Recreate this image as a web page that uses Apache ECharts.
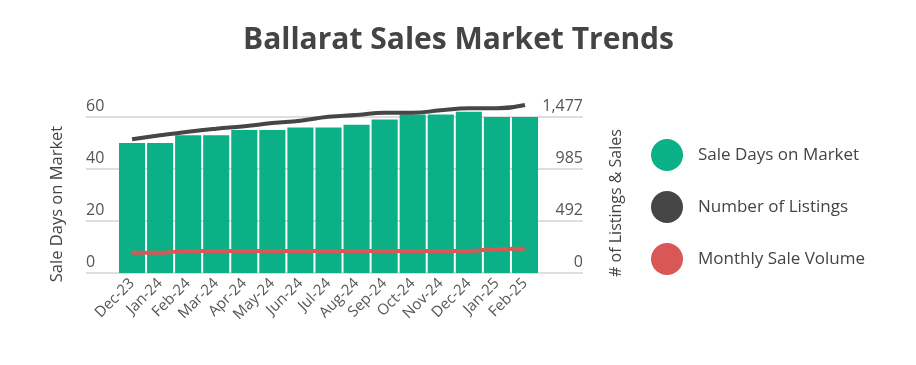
<!DOCTYPE html>
<html>
<head>
<meta charset="utf-8">
<script src="https://cdn.jsdelivr.net/npm/echarts@6/dist/echarts.min.js"></script>
<style>
html,body{margin:0;padding:0;background:#fff;}
#c{width:916px;height:365px;}
</style>
</head>
<body>
<div id="c"></div>
<script>
const categories = ['Dec-23','Jan-24','Feb-24','Mar-24','Apr-24','May-24','Jun-24','Jul-24','Aug-24','Sep-24','Oct-24','Nov-24','Dec-24','Jan-25','Feb-25'];
const saleDays = [50,50,53,53,55,55,56,56,57,59,61,61,62,60,60];
const listings = [1266,1304,1338,1366,1389,1420,1442,1480,1496,1518,1518,1540,1559,1559,1591];
const salesVolume = [192,192,208,208,208,208,208,208,208,208,208,208,208,227,230];
const leftTicks = {min:0,max:60,interval:20};
const rightTicks = {min:0,max:1477};

const FONT = '"Open Sans", "Noto Sans", sans-serif';
const chart = echarts.init(document.getElementById('c'), null, {renderer:'canvas'});
const rightInterval = rightTicks.max/3;

chart.setOption({
  animation:false,
  backgroundColor:'#fff',
  title:{
    text:'Ballarat Sales Market Trends',
    left:238, top:20,
    textStyle:{fontFamily:FONT,fontSize:30,fontWeight:'bold',color:'#444'}
  },
  legend:{
    orient:'vertical', left:646, top:134,
    icon:'circle', itemWidth:32, itemHeight:32, itemGap:20,
    textStyle:{fontFamily:FONT,fontSize:17,color:'#444',padding:[0,0,0,10]},
    data:['Sale Days on Market','Number of Listings','Monthly Sale Volume']
  },
  grid:[
    {left:118,right:377,top:117,bottom:92},
    {left:86,right:333,top:117,bottom:92}
  ],
  xAxis:[
    {type:'category',gridIndex:0,data:categories,
     axisLine:{show:false},axisTick:{show:false},
     axisLabel:{rotate:45,fontFamily:FONT,fontSize:15,color:'#555',margin:8,interval:0}},
    {type:'value',gridIndex:1,show:false,min:0,max:1}
  ],
  yAxis:[
    {type:'value',gridIndex:0,min:leftTicks.min,max:leftTicks.max,interval:leftTicks.interval,show:false},
    {type:'value',gridIndex:0,min:rightTicks.min,max:rightTicks.max,interval:rightInterval,show:false},
    {type:'value',gridIndex:1,position:'left',min:leftTicks.min,max:leftTicks.max,interval:leftTicks.interval,
     axisLine:{show:false},axisTick:{show:false},
     splitLine:{show:true,lineStyle:{color:'#dedede',width:2}},
     axisLabel:{inside:true,margin:0,verticalAlign:'bottom',padding:[0,0,3,0],fontFamily:FONT,fontSize:16,color:'#555'}},
    {type:'value',gridIndex:1,position:'right',min:rightTicks.min,max:rightTicks.max,interval:rightInterval,
     axisLine:{show:false},axisTick:{show:false},
     splitLine:{show:false},
     axisLabel:{inside:true,margin:0,verticalAlign:'bottom',padding:[0,0,3,0],fontFamily:FONT,fontSize:16,color:'#555',
       formatter:v=>Math.round(v).toLocaleString('en-US')}}
  ],
  graphic:[
    {type:'text',x:57,y:204,rotation:Math.PI/2,
     style:{text:'Sale Days on Market',font:'16.5px '+FONT,fill:'#444',textAlign:'center',textVerticalAlign:'middle'}},
    {type:'text',x:616,y:203,rotation:Math.PI/2,
     style:{text:'# of Listings & Sales',font:'16px '+FONT,fill:'#444',textAlign:'center',textVerticalAlign:'middle'}}
  ],
  series:[
    {name:'Sale Days on Market',type:'bar',xAxisIndex:0,yAxisIndex:0,data:saleDays,clip:false,
     barCategoryGap:'7%',itemStyle:{color:'#0cb087'}},
    {name:'Number of Listings',type:'line',xAxisIndex:0,yAxisIndex:1,data:listings,
     smooth:true,clip:false,symbol:'none',lineStyle:{color:'#464646',width:4},itemStyle:{color:'#464646'}},
    {name:'Monthly Sale Volume',type:'line',xAxisIndex:0,yAxisIndex:1,data:salesVolume,
     smooth:true,clip:false,symbol:'none',lineStyle:{color:'#d95757',width:4},itemStyle:{color:'#d95757'}}
  ]
});
</script>
</body>
</html>
